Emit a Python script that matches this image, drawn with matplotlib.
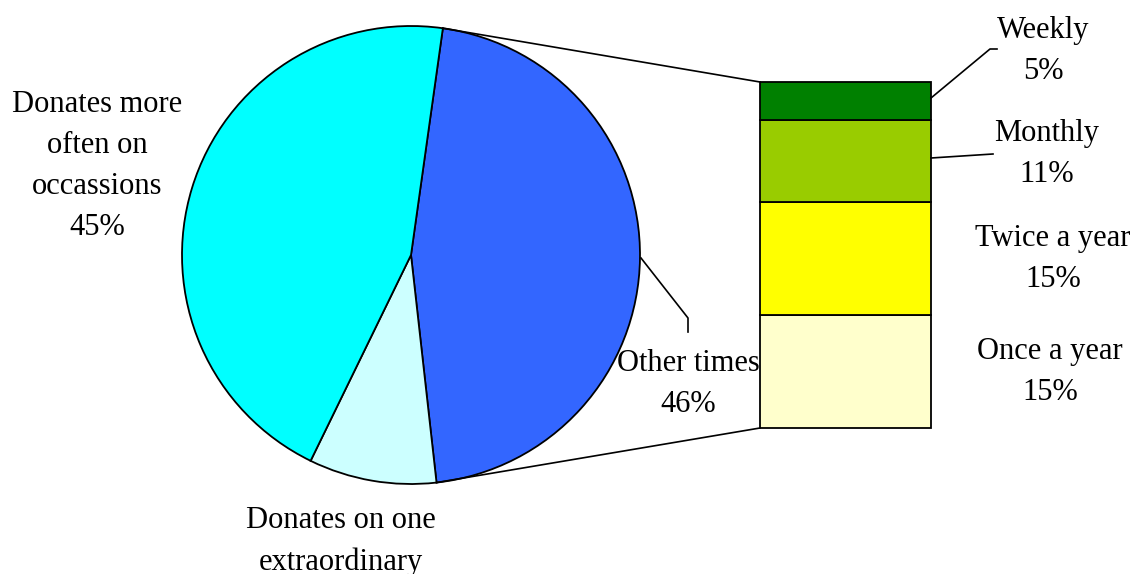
import matplotlib.pyplot as plt
import numpy as np

# pie data
pie_labels = ["Other times", "Donates on one\nextraordinary", "Donates more\noften on\noccassions"]
pie_values = [46, 9, 45]
pie_colors = ["#3366FF", "#CCFFFF", "#00FFFF"]

# breakdown of "Other times" (bottom to top)
bar_labels = ["Once a year", "Twice a year", "Monthly", "Weekly"]
bar_values = [15, 15, 11, 5]
bar_colors = ["#FFFFCC", "#FFFF00", "#99CC00", "#008000"]

W, H = 1137, 574
plt.rcParams['font.family'] = ['Liberation Serif', 'DejaVu Serif']
fig = plt.figure(figsize=(W / 100, H / 100), dpi=100)
ax = fig.add_axes([0, 0, 1, 1])

def py(y):
    # pixel row from top -> data y
    return H - y

cx, cy, r = 411, py(255), 229
start = 82
ax.pie(pie_values, colors=pie_colors, startangle=start, counterclock=False,
       center=(cx, cy), radius=r, frame=True,
       wedgeprops=dict(edgecolor='black', linewidth=1.3))
ax.set_xlim(0, W)
ax.set_ylim(0, H)
ax.set_aspect('equal')
ax.axis('off')

# stacked bar
bx, bw = 845.5, 171
top, bottom = py(82), py(428)
scale = (top - bottom) / sum(bar_values)
b = bottom
for v, c in zip(bar_values, bar_colors):
    ax.bar(bx, v * scale, width=bw, bottom=b, color=c, edgecolor='black', linewidth=1.3)
    b += v * scale

# connector lines from the "Other times" wedge to the bar
a0 = np.radians(start)
a1 = np.radians(start - pie_values[0] / sum(pie_values) * 360)
lw = 1.2
ax.plot([cx + r * np.cos(a0), bx - bw / 2], [cy + r * np.sin(a0), top], color='black', lw=lw)
ax.plot([cx + r * np.cos(a1), bx - bw / 2], [cy + r * np.sin(a1), bottom], color='black', lw=lw)

fs = 22
ls = 1.55
def label(x, y, s, **kw):
    ax.text(x, py(y), s, ha='center', va='center', fontsize=fs, linespacing=ls,
            color='black', **kw)

label(97, 166, f"{pie_labels[2]}\n{pie_values[2]}%")
label(688, 384, f"{pie_labels[0]}\n{pie_values[0]}%")
# this label runs off the bottom edge, as in the original
label(341, 562, f"{pie_labels[1]}\n{pie_values[1]}%")

label(1043, 51, f"{bar_labels[3]}\n{bar_values[3]}%")
label(1047, 154, f"{bar_labels[2]}\n{bar_values[2]}%")
label(1053, 259, f"{bar_labels[1]}\n{bar_values[1]}%")
label(1050, 372, f"{bar_labels[0]}\n{bar_values[0]}%")

# leader lines
ax.plot([641, 688, 688], [py(258), py(318), py(332)], color='black', lw=lw)
ax.plot([931, 990, 997], [py(98), py(49), py(49)], color='black', lw=lw)
ax.plot([931, 993], [py(158), py(154)], color='black', lw=lw)

fig.savefig("out.png", dpi=100)
